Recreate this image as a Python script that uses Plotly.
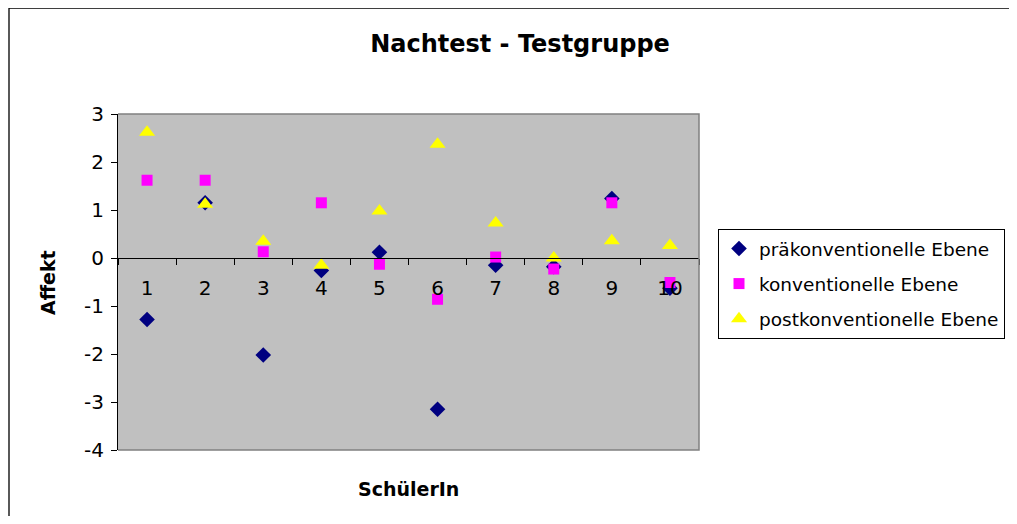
import plotly.graph_objects as go

schueler = ["1", "2", "3", "4", "5", "6", "7", "8", "9", "10"]
prae = [-1.28, 1.15, -2.02, -0.26, 0.12, -3.15, -0.15, -0.18, 1.24, -0.63]
konv = [1.62, 1.62, 0.13, 1.15, -0.13, -0.86, 0.02, -0.23, 1.15, -0.51]
post = [2.62, 1.12, 0.35, -0.15, 0.98, 2.37, 0.73, 0.0, 0.36, 0.26]
y_ticks = [3, 2, 1, 0, -1, -2, -3, -4]
y_ticktext = ["3", "2", "1", "0", "-1", "-2", "-3", "-4"]

FONT = "DejaVu Sans, Arial, sans-serif"

fig = go.Figure()
fig.add_trace(go.Scatter(x=schueler, y=prae, mode="markers", name="präkonventionelle Ebene",
                         legendgroup="a",
                         marker=dict(symbol="diamond", size=12, color="#000080")))
fig.add_trace(go.Scatter(x=schueler, y=konv, mode="markers", name="konventionelle Ebene",
                         legendgroup="b",
                         marker=dict(symbol="square", size=11, color="#FF00FF")))
fig.add_trace(go.Scatter(x=schueler, y=post, mode="markers", name="postkonventionelle Ebene",
                         legendgroup="c",
                         marker=dict(symbol="triangle-up", size=14, color="#FFFF00")))

# page has an 8px body margin; compensate so the figure fits the visible window
OFF = 8
W, H = 1017 - 2 * OFF, 524 - 2 * OFF
L, R, T, B = 118 - OFF, 699 - OFF, 114 - OFF, 450 - OFF
pw, ph = R - L, B - T

def px_x(x):
    return (x - OFF - L) / pw

def px_y(y):
    return (B - (y - OFF)) / ph

fig.update_layout(
    width=W, height=H,
    margin=dict(l=L, r=W - R, t=T, b=H - B, pad=0, autoexpand=False),
    paper_bgcolor="white",
    plot_bgcolor="#C0C0C0",
    font=dict(family=FONT, color="black", size=18),
    title=dict(text="<b>Nachtest - Testgruppe</b>", x=px_x(520), xref="paper",
               xanchor="center", y=1 - (44 - OFF) / H, yanchor="middle",
               font=dict(family=FONT, size=24, color="black")),
    xaxis=dict(type="category", range=[-0.5, 9.5], anchor="free", position=4 / 7,
               showline=True, linecolor="black", linewidth=1,
               ticks="outside", ticklen=6, tickcolor="black", tickson="boundaries",
               ticklabelstandoff=12,
               showgrid=False, zeroline=False,
               tickfont=dict(family=FONT, size=20, color="black")),
    yaxis=dict(range=[-4, 3], tickvals=y_ticks, ticktext=y_ticktext, showline=True,
               linecolor="black", linewidth=1, ticks="outside", ticklen=6,
               tickcolor="black", ticklabelstandoff=3,
               showgrid=False, zeroline=False,
               tickfont=dict(family=FONT, size=20, color="black")),
    legend=dict(x=px_x(718), y=px_y(229), xanchor="left", yanchor="top",
                bordercolor="black", borderwidth=1, bgcolor="white",
                traceorder="grouped", tracegroupgap=8,
                font=dict(family=FONT, size=18.5, color="black"),
                itemsizing="trace"),
    showlegend=True,
)

fig.add_annotation(text="<b>SchülerIn</b>", xref="paper", yref="paper",
                   x=px_x(408), y=px_y(489), showarrow=False,
                   xanchor="center", yanchor="middle",
                   font=dict(family=FONT, size=19, color="black"))
fig.add_annotation(text="<b>Affekt</b>", xref="paper", yref="paper",
                   x=px_x(48), y=px_y(283), showarrow=False, textangle=-90,
                   xanchor="center", yanchor="middle",
                   font=dict(family=FONT, size=19, color="black"))

# plot-area border (grey)
fig.add_shape(type="path", xref="paper", yref="paper",
              path="M 0 1 L 1 1 L 1 0 L 0 0", line=dict(color="#808080", width=1.5),
              layer="above")
# outer chart border
fig.add_shape(type="rect", xref="paper", yref="paper",
              x0=px_x(9), y0=px_y(8), x1=px_x(1100), y1=px_y(600),
              line=dict(color="black", width=1.3), fillcolor="rgba(0,0,0,0)")

fig.write_html("out.html")
